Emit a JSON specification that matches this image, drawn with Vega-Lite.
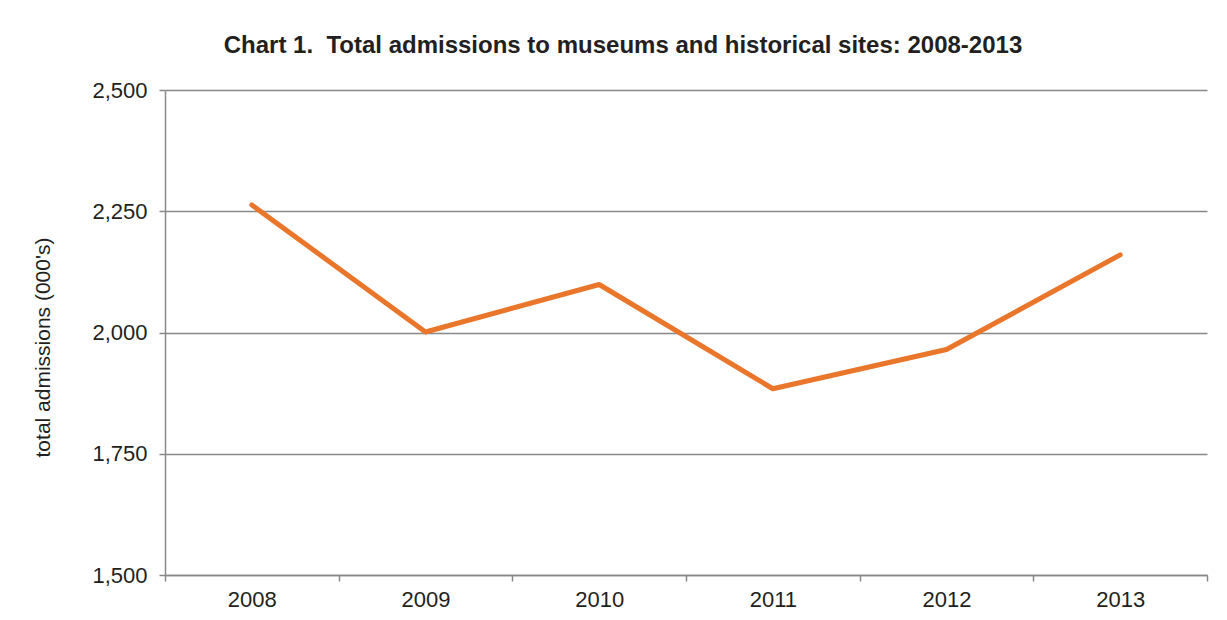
{
  "$schema": "https://vega.github.io/schema/vega-lite/v6.json",
  "autosize": "none",
  "width": 1042,
  "height": 485,
  "padding": {"left": 165, "top": 90, "right": 20, "bottom": 45},
  "background": "white",
  "title": {
    "text": "Chart 1.\u00a0 Total admissions to museums and historical sites: 2008-2013",
    "font": "Liberation Sans",
    "fontSize": 24,
    "fontWeight": "bold",
    "color": "#231F20",
    "anchor": "middle",
    "dx": -63,
    "offset": 21
  },
  "data": {
    "values": [
      {"year": "2008", "admissions": 2263},
      {"year": "2009", "admissions": 2001},
      {"year": "2010", "admissions": 2099},
      {"year": "2011", "admissions": 1884},
      {"year": "2012", "admissions": 1965},
      {"year": "2013", "admissions": 2160}
    ]
  },
  "mark": {"type": "line", "color": "#E9762B", "strokeWidth": 5, "strokeCap": "round", "strokeJoin": "round"},
  "encoding": {
    "x": {
      "field": "year",
      "type": "ordinal",
      "bandPosition": 0.5,
      "scale": {"type": "band", "paddingInner": 0, "paddingOuter": 0},
      "axis": {
        "title": null,
        "labelAngle": 0,
        "tickBand": "extent",
        "grid": false,
        "labelPadding": 8,
        "tickSize": 6
      }
    },
    "y": {
      "field": "admissions",
      "type": "quantitative",
      "scale": {"domain": [1500, 2500], "zero": false, "nice": false},
      "axis": {
        "title": "total admissions (000's)",
        "values": [1500, 1750, 2000, 2250, 2500],
        "format": ",.0f",
        "grid": true,
        "tickSize": 6,
        "labelPadding": 12,
        "titlePadding": 38,
        "titleFontSize": 21,
        "titleFontWeight": "normal",
        "titleY": 257
      }
    }
  },
  "config": {
    "view": {"stroke": null},
    "axis": {
      "labelFont": "Liberation Sans",
      "titleFont": "Liberation Sans",
      "labelFontSize": 22,
      "labelColor": "#231F20",
      "titleColor": "#231F20",
      "domainColor": "#888888",
      "domainWidth": 1.5,
      "tickColor": "#888888",
      "tickWidth": 1.5,
      "gridColor": "#888888",
      "gridWidth": 1.5,
      "gridOpacity": 1
    }
  }
}
